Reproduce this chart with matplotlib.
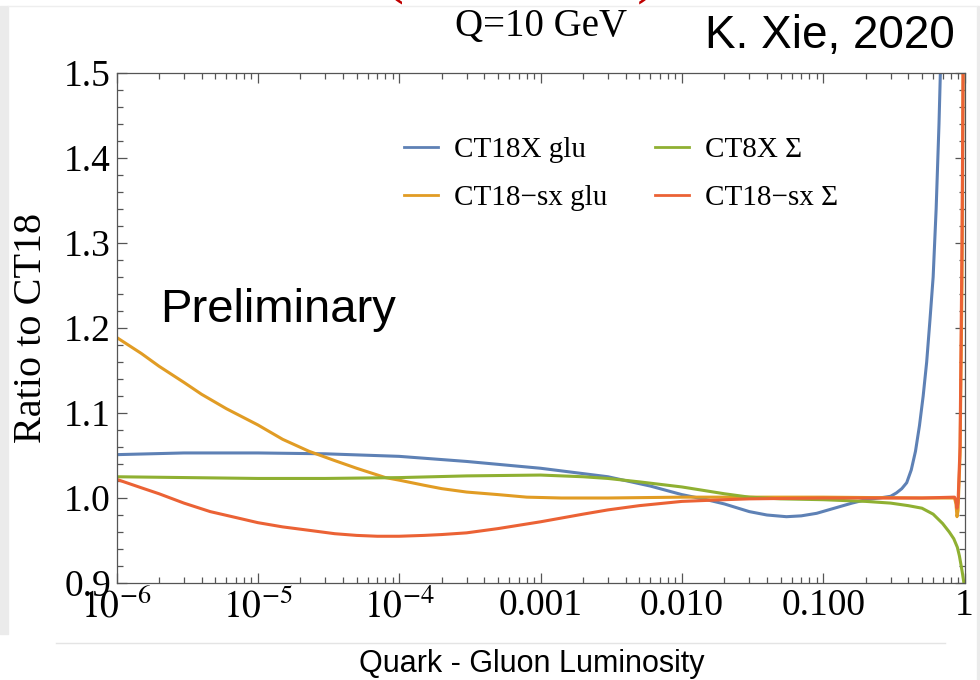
import matplotlib
matplotlib.use("Agg")
import matplotlib.pyplot as plt
from matplotlib.patches import Rectangle
from matplotlib.lines import Line2D
from matplotlib.ticker import LogLocator, NullFormatter, MultipleLocator

plt.rcParams["font.family"] = ["Liberation Serif", "DejaVu Serif"]
plt.rcParams["mathtext.fontset"] = "stix"

# --- data (x = luminosity fraction, y = ratio to CT18) ---
blue_x = [1e-6, 3e-6, 1e-5, 3e-5, 1e-4, 3e-4, 1e-3, 3e-3, 6e-3, 0.01, 0.015, 0.02, 0.03,
          0.04, 0.055, 0.07, 0.09, 0.12, 0.16, 0.2, 0.25, 0.3, 0.33, 0.36, 0.39, 0.42,
          0.45, 0.48, 0.51, 0.54, 0.57, 0.6, 0.63, 0.66, 0.69]
blue_y = [1.051, 1.053, 1.053, 1.052, 1.049, 1.043, 1.035, 1.025, 1.014, 1.004, 0.998, 0.993, 0.984,
          0.980, 0.978, 0.979, 0.982, 0.988, 0.994, 0.998, 1.000, 1.002, 1.006, 1.011, 1.018, 1.033,
          1.055, 1.085, 1.12, 1.16, 1.21, 1.26, 1.34, 1.44, 1.56]

orange_x = [1e-6, 1.5e-6, 2e-6, 3e-6, 4e-6, 6e-6, 1e-5, 1.5e-5, 2.3e-5, 3.5e-5, 5e-5, 8e-5,
            1e-4, 1.5e-4, 2e-4, 3e-4, 5e-4, 8e-4, 1.4e-3, 3e-3, 0.01, 0.1, 0.5, 0.85,
            0.87, 0.885, 0.9, 0.93, 0.96, 0.985]
orange_y = [1.189, 1.170, 1.155, 1.136, 1.122, 1.105, 1.086, 1.069, 1.055, 1.044, 1.035, 1.024,
            1.021, 1.015, 1.011, 1.007, 1.004, 1.001, 1.000, 1.000, 1.001, 1.001, 1.000, 1.000,
            0.993, 0.978, 0.985, 1.05, 1.25, 1.60]

green_x = [1e-6, 1e-5, 3e-5, 1e-4, 3e-4, 1e-3, 2e-3, 3e-3, 5e-3, 0.01, 0.02, 0.03, 0.05,
           0.1, 0.2, 0.3, 0.4, 0.5, 0.6, 0.7, 0.78, 0.84, 0.89, 0.92, 0.95, 0.97, 0.99, 1.0]
green_y = [1.025, 1.023, 1.023, 1.024, 1.026, 1.027, 1.025, 1.023, 1.019, 1.013, 1.005, 1.001, 0.999,
           0.998, 0.996, 0.994, 0.991, 0.988, 0.981, 0.970, 0.960, 0.952, 0.942, 0.932, 0.919, 0.910, 0.900, 0.890]

red_x = [1e-6, 1.5e-6, 2e-6, 3e-6, 4.6e-6, 7e-6, 1e-5, 1.5e-5, 2.3e-5, 3.5e-5, 5e-5, 7e-5,
         1e-4, 1.5e-4, 2e-4, 3e-4, 5e-4, 1e-3, 2e-3, 3e-3, 5e-3, 0.01, 0.02, 0.03, 0.1,
         0.5, 0.85, 0.87, 0.885, 0.9, 0.93, 0.96, 0.985]
red_y = [1.022, 1.012, 1.005, 0.994, 0.984, 0.977, 0.971, 0.966, 0.962, 0.958, 0.956, 0.955,
         0.955, 0.956, 0.957, 0.959, 0.964, 0.972, 0.981, 0.986, 0.991, 0.996, 0.998, 0.999, 1.000,
         1.000, 1.001, 0.997, 0.988, 0.995, 1.06, 1.30, 1.60]

series = [
    ("CT18X glu", blue_x, blue_y, "#5e81b5"),
    ("CT18\u2212sx glu", orange_x, orange_y, "#e19c24"),
    ("CT8X \u03a3", green_x, green_y, "#8fb032"),
    ("CT18\u2212sx \u03a3", red_x, red_y, "#eb6235"),
]

xticks = [1e-6, 1e-5, 1e-4, 1e-3, 1e-2, 1e-1, 1]
xticklabels = [r"$10^{-6}$", r"$10^{-5}$", r"$10^{-4}$", "0.001", "0.010", "0.100", "1"]
yticks = [0.9, 1.0, 1.1, 1.2, 1.3, 1.4, 1.5]

W, H = 980, 680
fig = plt.figure(figsize=(W / 100, H / 100), dpi=100)

# slide framing artefacts
gray = "#ebebeb"
fig.patches.append(Rectangle((0, 1 - 634 / H), 8 / W, (634 - 6) / H,
                             transform=fig.transFigure, color=gray, zorder=0))
fig.patches.append(Rectangle((977 / W, 0), 3 / W, (680 - 6) / H,
                             transform=fig.transFigure, color=gray, zorder=0))
fig.lines.append(Line2D([8 / W, 977 / W], [1 - 6 / H, 1 - 6 / H],
                        transform=fig.transFigure, color="#eeeeee", lw=1))
fig.lines.append(Line2D([56 / W, 945 / W], [1 - 643 / H, 1 - 643 / H],
                        transform=fig.transFigure, color="#e4e4e4", lw=1))

ax = fig.add_axes([116.5 / W, (H - 583) / H, 848 / W, 510 / H])

for label, xs, ys, c in series:
    ax.plot(xs, ys, color=c, lw=2.2, label=label, solid_joinstyle="round")

ax.set_xscale("log")
ax.set_xlim(1e-6, 1)
ax.set_ylim(0.9, 1.5)
ax.set_xticks(xticks)
ax.set_xticklabels(xticklabels)
ax.xaxis.set_minor_locator(LogLocator(base=10, subs=range(2, 10), numticks=20))
ax.xaxis.set_minor_formatter(NullFormatter())
ax.set_yticks(yticks)
ax.set_yticklabels([f"{v:.1f}" for v in yticks])
ax.yaxis.set_minor_locator(MultipleLocator(0.02))

ax.tick_params(which="both", direction="in", top=True, right=True,
               color="#555555", width=0.9)
ax.tick_params(which="major", length=7, labelsize=27, pad=4)
ax.tick_params(which="minor", length=4)
for sp in ax.spines.values():
    sp.set_color("#555555")
    sp.set_linewidth(0.9)

ax.set_ylabel("Ratio to CT18", fontsize=29, labelpad=10)

leg = ax.legend(loc="upper left", bbox_to_anchor=(0.322, 0.904), ncol=2, frameon=False,
                fontsize=21, handlelength=1.15, handletextpad=0.55,
                columnspacing=1.65, labelspacing=0.75, borderpad=0)
for h in leg.get_lines():
    h.set_linewidth(2.0)

ax.text(0.052, 0.535, "Preliminary", transform=ax.transAxes, fontsize=34,
        family="Liberation Sans", va="center", ha="left")

fig.text(541 / W, 1 - 27 / H, "Q=10 GeV", fontsize=28, ha="center", va="center")
fig.text(955 / W, 1 - 36 / H, "K. Xie, 2020", fontsize=33, family="Liberation Sans",
         ha="right", va="center")
fig.text(532 / W, 1 - 664 / H, "Quark - Gluon Luminosity", fontsize=22,
         family="Liberation Sans", ha="center", va="center")

# bottoms of a cut-off red slide title
fig.text(392 / W, 1 - 4 / H, "(", fontsize=48, color="#c00000", ha="center", va="bottom")
fig.text(648 / W, 1 - 4 / H, ")", fontsize=48, color="#c00000", ha="center", va="bottom")

fig.savefig("out.png", dpi=100)
